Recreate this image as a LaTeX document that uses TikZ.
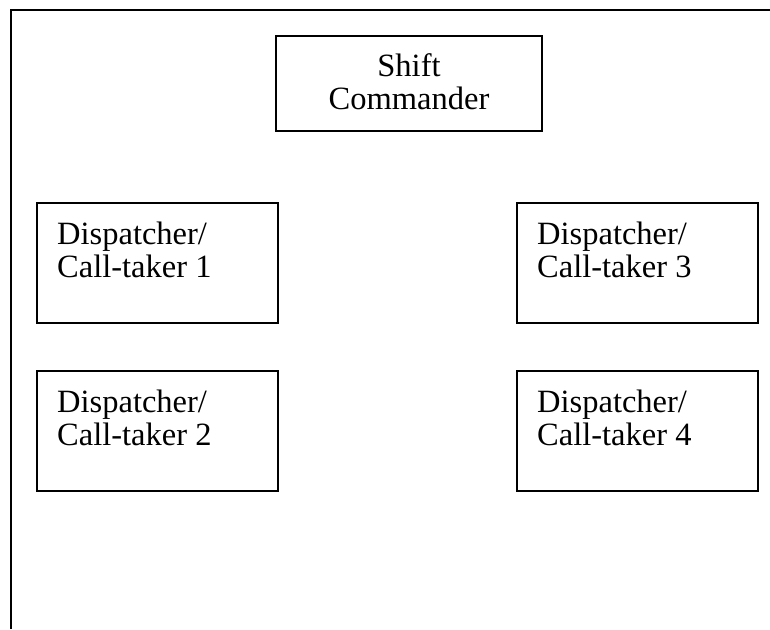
\documentclass[tikz,border=0pt]{standalone}
\usepackage{fontspec}
\setmainfont{Liberation Serif}
\begin{document}
\begin{tikzpicture}[x=1pt,y=-1pt,
  frame/.style={line width=2pt},
  box/.style={draw, line width=1.6pt, inner sep=0pt, anchor=north west},
  lbl/.style={font=\fontsize{32.5}{33}\selectfont, inner sep=0pt, align=left, anchor=north west},
  ctr/.style={font=\fontsize{32.5}{33}\selectfont, inner sep=0pt, align=center, anchor=north}]
\useasboundingbox (0,0) rectangle (770,629);
% page frame (top and left edges)
\draw[frame] (770,10) -- (11,10) -- (11,629);
% shift commander
\node[box, minimum width=266pt, minimum height=95pt] (cmd) at (275,35) {};
\node[ctr] (cmdt) at (409,53) {Shift\\Commander};
% dispatcher / call-taker boxes
\node[box, minimum width=241pt, minimum height=120pt] (d1) at (36,202) {};
\node[box, minimum width=241pt, minimum height=120pt] (d2) at (36,370) {};
\node[box, minimum width=241pt, minimum height=120pt] (d3) at (516,202) {};
\node[box, minimum width=241pt, minimum height=120pt] (d4) at (516,370) {};
\node[lbl] (d1t) at (57,222) {Dispatcher/\\Call-taker 1};
\node[lbl] (d2t) at (57,390) {Dispatcher/\\Call-taker 2};
\node[lbl] (d3t) at (537,222) {Dispatcher/\\Call-taker 3};
\node[lbl] (d4t) at (537,390) {Dispatcher/\\Call-taker 4};
\end{tikzpicture}
\end{document}
